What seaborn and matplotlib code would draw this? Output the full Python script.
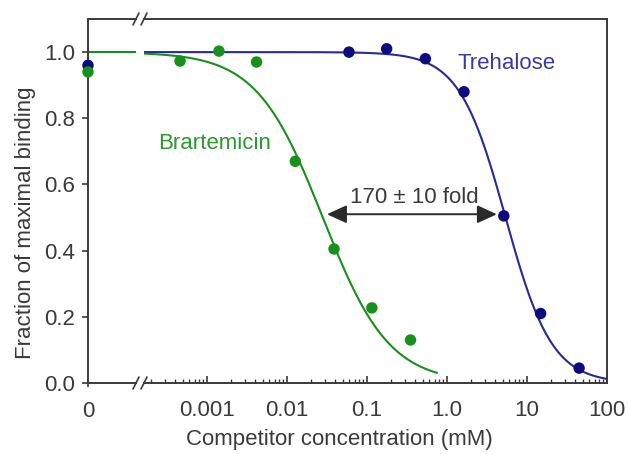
import numpy as np
import pandas as pd
import matplotlib
matplotlib.use("Agg")
import matplotlib.pyplot as plt
import seaborn as sns
from matplotlib.ticker import FixedLocator, FixedFormatter, LogLocator, NullFormatter

# ---------------- data ----------------
tre_conc = [0.0595, 0.176, 0.537, 1.63, 5.13, 14.8, 44.8]
tre_frac = [1.00, 1.01, 0.98, 0.88, 0.505, 0.21, 0.045]
brt_conc = [0.00046, 0.00141, 0.00416, 0.0127, 0.0387, 0.115, 0.35]
brt_frac = [0.973, 1.003, 0.97, 0.67, 0.405, 0.227, 0.13]
zero_labels = ["Trehalose", "Brartemicin"]
zero_frac = [0.96, 0.94]

# fitted dose-response parameters (IC50 in mM, Hill slope)
tre_ic50, tre_hill = 5.4, 1.5
brt_ic50, brt_hill = 0.028, 1.05
brt_curve_end = 0.75
tre_curve_end = 100

x_ticks = [0.001, 0.01, 0.1, 1, 10, 100]
x_ticklabels = ["0.001", "0.01", "0.1", "1.0", "10", "100"]
y_ticks = [0.0, 0.2, 0.4, 0.6, 0.8, 1.0]
y_ticklabels = ["0.0", "0.2", "0.4", "0.6", "0.8", "1.0"]
arrow_left, arrow_right, arrow_y = 0.0316, 4.2, 0.51

GREEN = "#18901c"
GREEN_TXT = "#2a9a2e"
BLUE = "#28289a"
BLUE_PT = "#0c0c80"
BLUE_TXT = "#3a3aa2"
DARK = "#3a3a3a"

sns.set_style("ticks")
plt.rcParams["font.family"] = ["Liberation Sans", "DejaVu Sans"]
FS = 16

fig = plt.figure(figsize=(6.28, 4.54), dpi=100)
W, H = 628, 454
y_top, y_bot = 19, 383
ax0 = fig.add_axes([88 / W, (H - y_bot) / H, 48 / W, (y_bot - y_top) / H])
ax1 = fig.add_axes([144 / W, (H - y_bot) / H, 463 / W, (y_bot - y_top) / H])

# x range of the log part: 0.001 at px 207, 80 px per decade
x_min = 10 ** (-3 + (144 - 207) / 80)
ax1.set_xscale("log")
ax1.set_xlim(x_min, 100)
ax0.set_xlim(0, 1)
for a in (ax0, ax1):
    a.set_ylim(0, 1.10)

# ---------------- curves ----------------
xb = np.logspace(np.log10(x_min), np.log10(brt_curve_end), 300)
xt = np.logspace(np.log10(x_min), np.log10(tre_curve_end), 300)
curves = pd.concat([
    pd.DataFrame({"x": xt, "y": 1 / (1 + (xt / tre_ic50) ** tre_hill), "s": "Trehalose"}),
    pd.DataFrame({"x": xb, "y": 1 / (1 + (xb / brt_ic50) ** brt_hill), "s": "Brartemicin"}),
])
sns.lineplot(data=curves, x="x", y="y", hue="s", palette={"Trehalose": BLUE, "Brartemicin": GREEN},
             ax=ax1, legend=False, linewidth=1.5, estimator=None, sort=False)

pts = pd.concat([
    pd.DataFrame({"x": tre_conc, "y": tre_frac, "s": "Trehalose"}),
    pd.DataFrame({"x": brt_conc, "y": brt_frac, "s": "Brartemicin"}),
])
sns.scatterplot(data=pts, x="x", y="y", hue="s", palette={"Trehalose": BLUE_PT, "Brartemicin": GREEN},
                ax=ax1, legend=False, s=68, edgecolor="none", zorder=5)

# zero-concentration segment
seg = pd.DataFrame({"x": [0, 1], "y": [1.0, 1.0]})
sns.lineplot(data=seg, x="x", y="y", ax=ax0, color=GREEN, linewidth=1.5)
zdf = pd.DataFrame({"x": [0, 0], "y": zero_frac, "s": zero_labels})
sns.scatterplot(data=zdf, x="x", y="y", hue="s", palette={"Trehalose": BLUE_PT, "Brartemicin": GREEN},
                ax=ax0, legend=False, s=68, edgecolor="none", zorder=6, clip_on=False)

# ---------------- spines & ticks ----------------
for a in (ax0, ax1):
    for sp in a.spines.values():
        sp.set_color(DARK)
        sp.set_linewidth(1.4)
    a.set_xlabel("")
    a.set_ylabel("")
ax0.spines["right"].set_visible(False)
ax1.spines["left"].set_visible(False)

ax0.yaxis.set_major_locator(FixedLocator(y_ticks))
ax0.yaxis.set_major_formatter(FixedFormatter(y_ticklabels))
ax0.xaxis.set_major_locator(FixedLocator([0]))
ax0.xaxis.set_major_formatter(FixedFormatter(["0"]))
ax0.tick_params(axis="y", direction="out", length=4.5, width=1.2, color=DARK,
                labelsize=FS, labelcolor=DARK, pad=5)
ax0.tick_params(axis="x", direction="out", length=3, width=1.2, color=DARK,
                labelsize=FS, labelcolor=DARK, pad=10)

ax1.yaxis.set_visible(False)
ax1.xaxis.set_major_locator(FixedLocator(x_ticks))
ax1.xaxis.set_major_formatter(FixedFormatter(x_ticklabels))
ax1.xaxis.set_minor_locator(LogLocator(base=10, subs=np.arange(2, 10), numticks=20))
ax1.xaxis.set_minor_formatter(NullFormatter())
ax1.tick_params(axis="x", which="major", direction="in", length=5, width=1.2, color=DARK,
                labelsize=FS, labelcolor=DARK, pad=12)
ax1.tick_params(axis="x", which="minor", direction="in", length=3, width=1.0, color=DARK)

# break marks
dx0, dy = 3 / 48, 6 / 364
dx1 = 3 / 463
for yb in (0, 1):
    ax0.plot([1 - dx0, 1 + dx0], [yb - dy, yb + dy], transform=ax0.transAxes, color=DARK,
             lw=1.2, clip_on=False)
    ax1.plot([-dx1, dx1], [yb - dy, yb + dy], transform=ax1.transAxes, color=DARK,
             lw=1.2, clip_on=False)

# ---------------- annotations ----------------
ax1.text(0.00125, 0.725, "Brartemicin", color=GREEN_TXT, fontsize=FS, ha="center", va="center")
ax1.text(5.5, 0.967, "Trehalose", color=BLUE_TXT, fontsize=FS, ha="center", va="center")
ax1.text(0.39, 0.562, "170 ± 10 fold", color=DARK, fontsize=FS, ha="center", va="center")
ax1.annotate("", xy=(arrow_left, arrow_y), xytext=(arrow_right, arrow_y),
             arrowprops=dict(arrowstyle="<|-|>,head_length=1.2,head_width=0.55", color="#2a2a2a",
                             lw=1.4, mutation_scale=10, shrinkA=0, shrinkB=0))

fig.text(339 / W, (H - 439) / H, "Competitor concentration (mM)", fontsize=FS, color=DARK,
         ha="center", va="center")
fig.text(26 / W, (H - 223) / H, "Fraction of maximal binding", fontsize=FS, color=DARK,
         ha="center", va="center", rotation=90)

fig.savefig("out.png", dpi=100)
